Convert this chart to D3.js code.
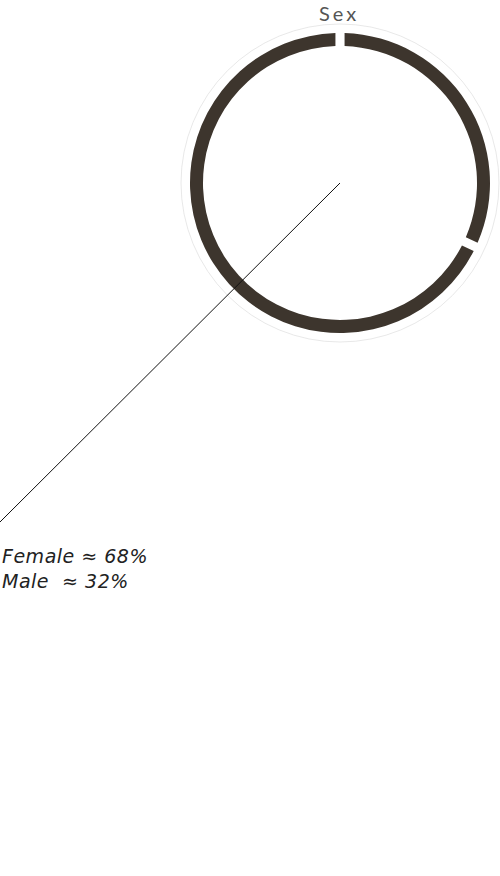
<!DOCTYPE html>
<html>
<head>
<meta charset="utf-8">
<script src="https://cdn.jsdelivr.net/npm/d3@7"></script>
<style>
  html, body { margin: 0; padding: 0; background: #fff; }
  svg { display: block; }
  .title { font-family: Lato, sans-serif; font-weight: 400; fill: #555; letter-spacing: 3px; }
  .label { font-family: "DejaVu Sans", sans-serif; font-weight: 200; font-style: italic; fill: #222; letter-spacing: 0.5px; }
</style>
</head>
<body>
<div id="chart"></div>
<script>
// Data: share of respondents by sex
const categories = ['Male', 'Female'];
const shares = [32, 68];
const title = 'Sex';
const labelLines = ['Female \u2248 68%', 'Male  \u2248 32%'];

const width = 500, height = 876;
const cx = 340, cy = 183;
const outerR = 150, innerR = 137, haloR = 159;
const ring = '#3d352d';

const svg = d3.select('#chart').append('svg')
  .attr('width', width).attr('height', height)
  .attr('viewBox', `0 0 ${width} ${height}`);

const g = svg.append('g').attr('transform', `translate(${cx},${cy})`);

// faint outer halo
g.append('circle').attr('r', haloR)
  .attr('fill', 'none').attr('stroke', '#d8d8d8').attr('stroke-width', 0.6);

const pie = d3.pie().sort(null).value((d) => d.value);
const arc = d3.arc().innerRadius(innerR).outerRadius(outerR)
  .padAngle(0.045);

const data = categories.map((c, i) => ({ name: c, value: shares[i] }));

g.selectAll('path').data(pie(data)).join('path')
  .attr('d', arc)
  .attr('fill', ring);

// leader line from the centre down to the legend text
svg.append('line')
  .attr('x1', cx).attr('y1', cy)
  .attr('x2', 0).attr('y2', 522)
  .attr('stroke', '#111').attr('stroke-width', 1);

svg.append('text').attr('class', 'title')
  .attr('x', 339).attr('y', 21)
  .attr('text-anchor', 'middle')
  .style('font-size', '20px')
  .text(title);

svg.append('g').selectAll('text').data(labelLines).join('text')
  .attr('class', 'label')
  .attr('x', 2).attr('y', (d, i) => 563 + i * 25)
  .style('font-size', '19px')
  .style('white-space', 'pre')
  .attr('xml:space', 'preserve')
  .text((d) => d);
</script>
</body>
</html>
